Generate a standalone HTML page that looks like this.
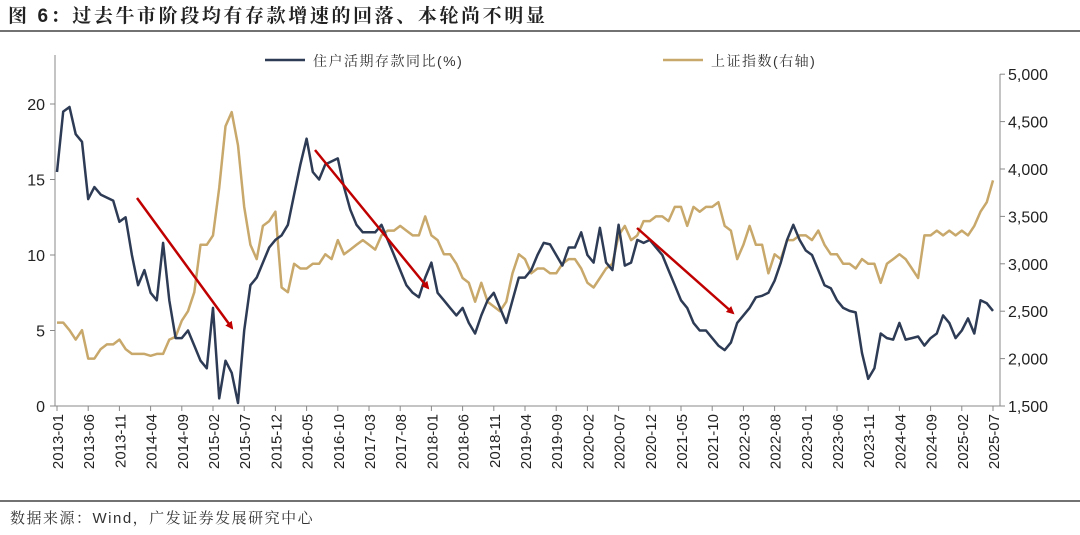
<!DOCTYPE html>
<html><head><meta charset="utf-8"><style>
body{margin:0;background:#fff;width:1080px;height:530px;overflow:hidden}
svg text{font-family:"Liberation Sans","Noto Sans CJK SC",sans-serif}
</style></head><body>
<svg id="s" width="1080" height="530" xmlns="http://www.w3.org/2000/svg">
<text x="8" y="22" font-size="19" font-weight="bold" fill="#222" letter-spacing="2.6" style="font-family:'Liberation Sans','Noto Serif CJK SC',serif">图 6：过去牛市阶段均有存款增速的回落、本轮尚不明显</text>
<line x1="0" y1="31" x2="1080" y2="31" stroke="#444" stroke-width="1.5"/>
<line x1="0" y1="501" x2="1080" y2="501" stroke="#444" stroke-width="1.5"/>
<text x="10" y="523" font-size="15" fill="#333" letter-spacing="1.5" style="font-family:'Liberation Sans','Noto Serif CJK SC',serif">数据来源：Wind，广发证券发展研究中心</text>
<line x1="265" y1="60" x2="305" y2="60" stroke="#2e3b55" stroke-width="2.5"/>
<text x="313" y="66" font-size="14" fill="#333" letter-spacing="1.5" style="font-family:'Liberation Sans','Noto Serif CJK SC',serif">住户活期存款同比(%)</text>
<line x1="663" y1="60" x2="703" y2="60" stroke="#c8a86b" stroke-width="2.5"/>
<text x="711" y="66" font-size="14" fill="#333" letter-spacing="1.5" style="font-family:'Liberation Sans','Noto Serif CJK SC',serif">上证指数(右轴)</text>
<g id="g"></g>
</svg>
<script>
var g=document.getElementById('g'),h='';
var x0=57,dx=6.24,L=v=>406-v*15.1,R=v=>406-(v-1500)*0.0948;
h+='<line x1="55" y1="55" x2="55" y2="406" stroke="#888"/><line x1="55" y1="406" x2="1000" y2="406" stroke="#888"/><line x1="1000" y1="74" x2="1000" y2="406" stroke="#888"/>';
for(var v=0;v<=20;v+=5){var y=L(v);h+='<line x1="50" y1="'+y+'" x2="55" y2="'+y+'" stroke="#888"/><text x="45" y="'+(y+6)+'" font-size="16" text-anchor="end" fill="#222">'+v+'</text>';}
for(var v=1500;v<=5000;v+=500){var y=R(v);h+='<line x1="1000" y1="'+y+'" x2="1005" y2="'+y+'" stroke="#888"/><text x="1008" y="'+(y+6)+'" font-size="16" fill="#222">'+(v+'').replace(/(\d)(\d{3})$/,'$1,$2')+'</text>';}
for(var m=0;m<=150;m+=5){var x=x0+m*dx,yr=2013+Math.floor(m/12),mo=m%12+1;h+='<line x1="'+x+'" y1="406" x2="'+x+'" y2="411" stroke="#888"/><text transform="translate('+(x+6)+',414) rotate(-90)" font-size="15" text-anchor="end" fill="#222">'+yr+'-'+(mo<10?'0':'')+mo+'</text>';}
var D=[15.5,19.5,19.8,18,17.5,13.7,14.5,14,13.8,13.6,12.2,12.5,10,8,9,7.5,7,10.8,7,4.5,4.5,5,4,3,2.5,6.5,0.5,3,2.2,0.2,5,8,8.5,9.5,10.5,11,11.3,12,14,16,17.7,15.5,15,16,16.2,16.4,14.5,13,12,11.5,11.5,11.5,12,11,10,9,8,7.5,7.2,8.5,9.5,7.5,7,6.5,6,6.5,5.5,4.8,6,7,7.5,6.5,5.5,7,8.5,8.5,9,10,10.8,10.7,10,9.3,10.5,10.5,11.5,10,9.5,11.8,9.5,9,12,9.3,9.5,11,10.8,11,10.5,10,9,8,7,6.5,5.5,5,5,4.5,4,3.7,4.2,5.5,6,6.5,7.2,7.3,7.5,8.3,9.5,11,12,11,10.3,10,9,8,7.8,7,6.5,6.3,6.2,3.5,1.8,2.5,4.8,4.5,4.4,5.5,4.4,4.5,4.6,4,4.5,4.8,6,5.5,4.5,5,5.8,4.8,7,6.8,6.3];
var I=[2380,2380,2300,2200,2300,2000,2000,2100,2150,2150,2200,2100,2050,2050,2050,2030,2050,2050,2200,2230,2400,2500,2700,3200,3200,3300,3800,4450,4600,4250,3600,3200,3050,3400,3450,3550,2750,2700,3000,2950,2950,3000,3000,3100,3050,3250,3100,3150,3200,3250,3200,3150,3300,3350,3350,3400,3350,3300,3300,3500,3300,3250,3100,3100,3000,2850,2800,2600,2800,2600,2550,2500,2600,2900,3100,3050,2900,2950,2950,2900,2900,3000,3050,3050,2950,2800,2750,2850,2950,3000,3300,3400,3250,3300,3450,3450,3500,3500,3450,3600,3600,3400,3600,3550,3600,3600,3650,3400,3350,3050,3200,3400,3200,3200,2900,3100,3050,3250,3250,3300,3300,3250,3350,3200,3100,3100,3000,3000,2950,3050,3000,3000,2800,3000,3050,3100,3050,2950,2850,3300,3300,3350,3300,3350,3300,3350,3300,3400,3550,3650,3880];
function pl(a,f,c){return '<polyline fill="none" stroke="'+c+'" stroke-width="2.5" stroke-linejoin="round" points="'+a.map((v,i)=>(x0+i*dx).toFixed(1)+','+f(v).toFixed(1)).join(' ')+'"/>';}
h+=pl(I,R,'#c8a86b')+pl(D,L,'#2e3b55');
h+='<defs><marker id="ar" markerWidth="8" markerHeight="8" refX="6" refY="4" orient="auto" markerUnits="userSpaceOnUse"><path d="M0,0L8,4L0,8z" fill="#c00000"/></marker></defs>';
[[137,198,232,328],[315,150,428,288],[637,228,733,313]].forEach(a=>{h+='<line x1="'+a[0]+'" y1="'+a[1]+'" x2="'+a[2]+'" y2="'+a[3]+'" stroke="#c00000" stroke-width="2.5" marker-end="url(#ar)"/>';});
g.innerHTML=h;
</script>
</body></html>
